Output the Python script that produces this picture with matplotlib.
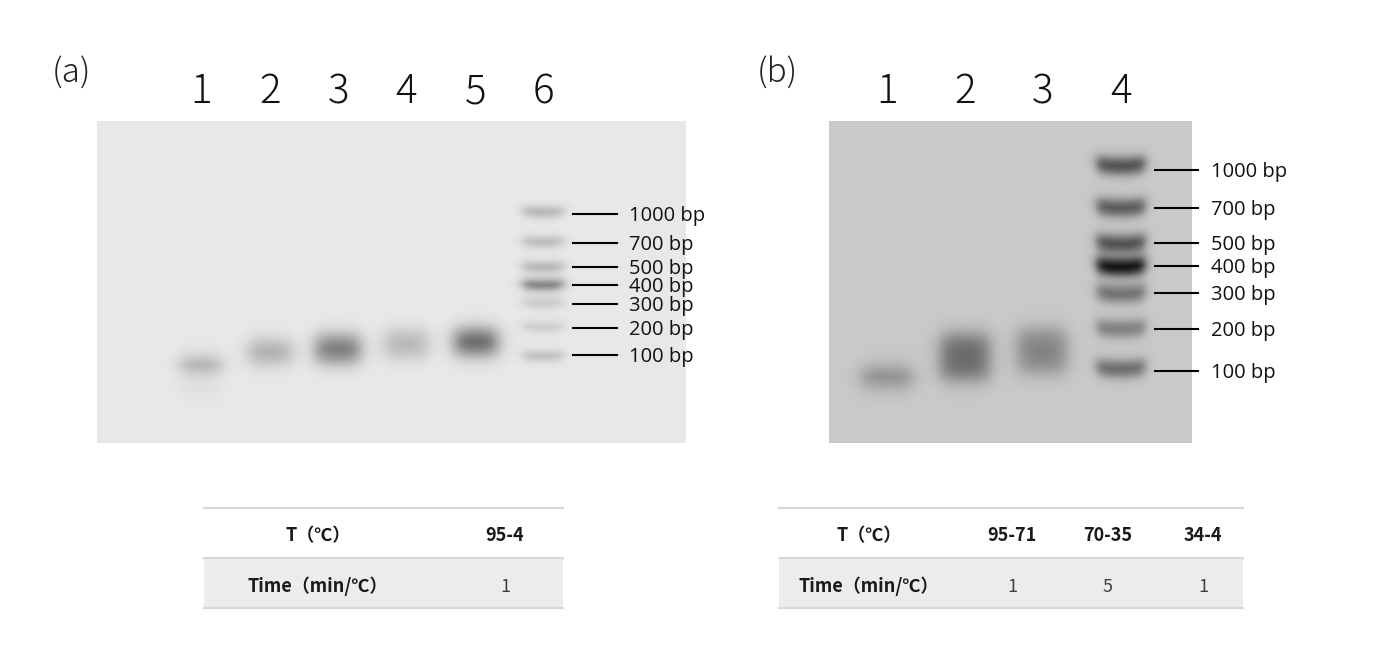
import numpy as np
import matplotlib
matplotlib.use("Agg")
import matplotlib.pyplot as plt
from matplotlib.patches import Rectangle

# ---- data ----
LADDER_BP = [1000, 700, 500, 400, 300, 200, 100]

# panel (a): lanes 1-5 samples, lane 6 ladder
a_lane_labels = ["1", "2", "3", "4", "5", "6"]
a_lane_x = [201, 270, 338, 406, 476, 543]
a_sample_y = [365, 352, 349, 344, 342]
a_sample_halfh = [7, 11, 13, 13, 12]
a_sample_halfw = [20, 21, 22, 21, 21]
a_sample_depth = [64, 62, 115, 52, 138]
a_ladder_y = [212, 242, 267, 285, 303, 327, 356]
a_ladder_depth = [58, 52, 58, 118, 34, 32, 45]
a_marker_y = [214, 243, 267, 285, 304, 328, 355]

# panel (b): lanes 1-3 samples, lane 4 ladder
b_lane_labels = ["1", "2", "3", "4"]
b_lane_x = [887, 965, 1042, 1121]
b_sample_y = [377, 357, 351]
b_sample_halfh = [9, 22, 21]
b_sample_halfw = [25, 24, 24]
b_sample_depth = [66, 98, 72]
b_ladder_y = [166, 208, 244, 267, 294, 329, 369]
b_ladder_depth = [130, 120, 130, 200, 95, 80, 100]
b_marker_y = [170, 208, 243, 266, 293, 329, 371]

# tables
table_row_names = ["T（℃）", "Time（min/℃）"]
a_table_T = ["95-4"]
a_table_time = ["1"]
b_table_T = ["95-71", "70-35", "34-4"]
b_table_time = ["1", "5", "1"]


def soft_box(u, center, half, soft):
    return 1.0 / (1.0 + np.exp((np.abs(u - center) - half) / soft))


def make_gel(x0, x1, y0, y1, bg, bands):
    xs = np.arange(x0, x1) + 0.5
    ys = np.arange(y0, y1) + 0.5
    X, Y = np.meshgrid(xs, ys)
    img = np.full(X.shape, float(bg))
    for (bx, by, hw, hh, depth, sx, sy, curl) in bands:
        yc = by - curl * (X - bx) ** 2
        img -= depth * soft_box(X, bx, hw, sx) * soft_box(Y, yc, hh, sy)
    return np.clip(img, 0, 255)


fig = plt.figure(figsize=(13.98, 6.59), dpi=100)
ax = fig.add_axes([0, 0, 1, 1])
ax.set_xlim(0, 1398)
ax.set_ylim(659, 0)
ax.axis("off")

# ---- gel (a) ----
bands_a = [(a_lane_x[i], a_sample_y[i], a_sample_halfw[i], a_sample_halfh[i], a_sample_depth[i], 5, 5, 0)
           for i in range(len(a_sample_y))]
bands_a.append((a_lane_x[0], 390, 18, 9, 9, 6, 6, 0))  # faint smear under lane 1
for y, d in zip(a_ladder_y, a_ladder_depth):
    bands_a.append((a_lane_x[5], y, 20, 4.5, d, 3.5, 2.5, 0.002))
gel_a = make_gel(97, 686, 121, 443, 232, bands_a)
ax.imshow(gel_a, extent=(97, 686, 443, 121), cmap="gray", vmin=0, vmax=255,
          interpolation="bilinear", aspect="auto", zorder=1)

# ---- gel (b) ----
bands_b = [(b_lane_x[i], b_sample_y[i], b_sample_halfw[i], b_sample_halfh[i], b_sample_depth[i], 5, 5.5, 0)
           for i in range(len(b_sample_y))]
for y, d in zip(b_ladder_y, b_ladder_depth):
    bands_b.append((b_lane_x[3], y, 24, 7.5, d, 3, 3.2, 0.004))
gel_b = make_gel(829, 1192, 121, 443, 201, bands_b)
ax.imshow(gel_b, extent=(829, 1192, 443, 121), cmap="gray", vmin=0, vmax=255,
          interpolation="bilinear", aspect="auto", zorder=1)

# ---- labels ----
lane_font = dict(family=["Noto Sans CJK JP", "DejaVu Sans"], fontsize=29, fontweight="light",
                 ha="center", va="baseline", color="#111111")
for lab, x in zip(a_lane_labels, a_lane_x):
    ax.text(x, 103, lab, **lane_font)
for lab, x in zip(b_lane_labels, b_lane_x):
    ax.text(x, 103, lab, **lane_font)
panel_font = dict(family=["Noto Sans CJK JP", "DejaVu Sans"], fontsize=24, fontweight="light",
                  ha="left", va="baseline", color="#222222")
ax.text(52, 83, "(a)", **panel_font)
ax.text(757, 83, "(b)", **panel_font)

# ladder markers
mark_font = dict(family="Open Sans", fontsize=14.5, ha="left", va="baseline", color="#111111")
for bp, y in zip(LADDER_BP, a_marker_y):
    ax.plot([573, 617], [y, y], color="black", lw=1.5, zorder=3)
    ax.text(629, y + 7, f"{bp} bp", **mark_font)
for bp, y in zip(LADDER_BP, b_marker_y):
    ax.plot([1155, 1198], [y, y], color="black", lw=1.5, zorder=3)
    ax.text(1211, y + 7, f"{bp} bp", **mark_font)


# ---- tables ----
def draw_table(x0, x1, name_x, col_x, temps, times):
    top, mid, bot = 508, 558, 608
    ax.add_patch(Rectangle((x0, mid), x1 - x0, bot - mid, color="#ececec", lw=0, zorder=1))
    for y in (top, mid, bot):
        ax.plot([x0, x1], [y, y], color="#d8d8d8", lw=1.5, zorder=2)
    bold = dict(family=["Noto Sans CJK SC", "DejaVu Sans"], fontsize=13,
                fontweight="bold", ha="center", va="baseline", color="#1a1a1a")
    norm = dict(family=["Noto Sans CJK SC", "DejaVu Sans"], fontsize=13,
                ha="center", va="baseline", color="#404040")
    ax.text(name_x, 541, table_row_names[0], **bold)
    ax.text(name_x, 592, table_row_names[1], **bold)
    for x, t, m in zip(col_x, temps, times):
        ax.text(x, 541, t, **bold)
        ax.text(x, 592, m, **norm)


draw_table(204, 563, 318, [505], a_table_T, a_table_time)
draw_table(779, 1243, 869, [1012, 1108, 1203], b_table_T, b_table_time)

fig.savefig("out.png", dpi=100)
